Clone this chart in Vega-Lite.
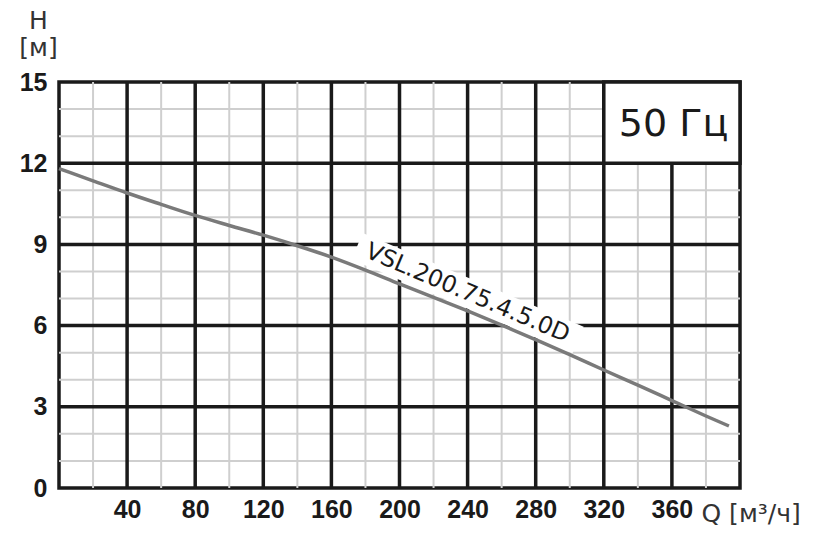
{
  "$schema": "https://vega.github.io/schema/vega-lite/v6.json",
  "width": 681,
  "height": 406,
  "autosize": "none",
  "padding": {"left": 59, "top": 82, "right": 87, "bottom": 55},
  "background": "white",
  "datasets": {
    "curve": [
      {"Q": 0, "H": 11.8}, {"Q": 20, "H": 11.35}, {"Q": 40, "H": 10.9},
      {"Q": 60, "H": 10.48}, {"Q": 80, "H": 10.07}, {"Q": 100, "H": 9.7},
      {"Q": 120, "H": 9.34}, {"Q": 140, "H": 8.95}, {"Q": 160, "H": 8.53},
      {"Q": 180, "H": 8.05}, {"Q": 200, "H": 7.54}, {"Q": 220, "H": 7.04},
      {"Q": 240, "H": 6.54}, {"Q": 260, "H": 6.02}, {"Q": 280, "H": 5.48},
      {"Q": 300, "H": 4.93}, {"Q": 320, "H": 4.36}, {"Q": 340, "H": 3.8},
      {"Q": 360, "H": 3.23}, {"Q": 380, "H": 2.66}, {"Q": 393.5, "H": 2.29}
    ],
    "vminor": [
      {"Q": 20}, {"Q": 60}, {"Q": 100}, {"Q": 140}, {"Q": 180},
      {"Q": 220}, {"Q": 260}, {"Q": 300}, {"Q": 340}, {"Q": 380}
    ],
    "hminor": [
      {"H": 1}, {"H": 2}, {"H": 4}, {"H": 5}, {"H": 7},
      {"H": 8}, {"H": 10}, {"H": 11}, {"H": 13}, {"H": 14}
    ],
    "vgrid": [
      {"Q": 40}, {"Q": 80}, {"Q": 120}, {"Q": 160}, {"Q": 200},
      {"Q": 240}, {"Q": 280}, {"Q": 320}, {"Q": 360}
    ],
    "hgrid": [{"H": 3}, {"H": 6}, {"H": 9}, {"H": 12}],
    "freq": [{"Q": 320, "Q2": 400, "H": 12, "H2": 15, "tx": 361, "ty": 13.4, "label": "50 Гц"}],
    "pump": [{"Q": 240, "H": 7.2, "name": "VSL.200.75.4.5.0D"}]
  },
  "layer": [
    {
      "data": {"name": "vminor"},
      "mark": {"type": "rule", "color": "#cfcfcf", "strokeWidth": 2},
      "encoding": {
        "x": {
          "field": "Q",
          "type": "quantitative",
          "scale": {"domain": [0, 400], "nice": false},
          "axis": {
            "title": "Q [м³/ч]",
            "values": [40, 80, 120, 160, 200, 240, 280, 320, 360]
          }
        }
      }
    },
    {
      "data": {"name": "hminor"},
      "mark": {"type": "rule", "color": "#cfcfcf", "strokeWidth": 2},
      "encoding": {
        "y": {
          "field": "H",
          "type": "quantitative",
          "scale": {"domain": [0, 15], "nice": false},
          "axis": {
            "title": ["H", "[м]"],
            "values": [0, 3, 6, 9, 12, 15]
          }
        }
      }
    },
    {
      "data": {"name": "vgrid"},
      "mark": {"type": "rule", "color": "#1a1a1a", "strokeWidth": 3.5},
      "encoding": {
        "x": {"field": "Q", "type": "quantitative"}
      }
    },
    {
      "data": {"name": "hgrid"},
      "mark": {"type": "rule", "color": "#1a1a1a", "strokeWidth": 3.5},
      "encoding": {
        "y": {"field": "H", "type": "quantitative"}
      }
    },
    {
      "data": {"name": "freq"},
      "mark": {"type": "rect", "fill": "white", "stroke": "#1a1a1a", "strokeWidth": 3.5},
      "encoding": {
        "x": {"field": "Q", "type": "quantitative"},
        "x2": {"field": "Q2"},
        "y": {"field": "H", "type": "quantitative"},
        "y2": {"field": "H2"}
      }
    },
    {
      "data": {"name": "freq"},
      "mark": {"type": "text", "font": "DejaVu Sans", "fontSize": 38, "color": "#1a1a1a", "align": "center", "baseline": "middle"},
      "encoding": {
        "x": {"field": "tx", "type": "quantitative"},
        "y": {"field": "ty", "type": "quantitative"},
        "text": {"field": "label"}
      }
    },
    {
      "data": {"name": "pump"},
      "mark": {
        "type": "point",
        "shape": "M-1,-0.12L1,-0.12L1,0.12L-1,0.12Z",
        "filled": true,
        "color": "white",
        "opacity": 1,
        "strokeWidth": 0,
        "size": 57600,
        "angle": 23
      },
      "encoding": {
        "x": {"field": "Q", "type": "quantitative"},
        "y": {"field": "H", "type": "quantitative"}
      }
    },
    {
      "data": {"name": "curve"},
      "mark": {"type": "line", "color": "#7a7a7a", "strokeWidth": 3.5, "interpolate": "monotone"},
      "encoding": {
        "x": {"field": "Q", "type": "quantitative"},
        "y": {"field": "H", "type": "quantitative"}
      }
    },
    {
      "data": {"name": "pump"},
      "mark": {"type": "text", "font": "DejaVu Sans", "fontSize": 23.5, "color": "#1a1a1a", "align": "center", "baseline": "middle", "angle": 23},
      "encoding": {
        "x": {"field": "Q", "type": "quantitative"},
        "y": {"field": "H", "type": "quantitative"},
        "text": {"field": "name"}
      }
    }
  ],
  "config": {
    "view": {"stroke": "#1a1a1a", "strokeWidth": 3.5},
    "axis": {
      "domain": false,
      "ticks": false,
      "grid": false,
      "labelFont": "Liberation Sans, Arial, Helvetica, sans-serif",
      "labelFontWeight": "bold",
      "labelFontSize": 25,
      "labelColor": "#1a1a1a",
      "labelFlush": false,
      "labelOverlap": false,
      "titleFont": "DejaVu Sans",
      "titleFontWeight": "normal",
      "titleFontSize": 25,
      "titleColor": "#333333"
    },
    "axisX": {
      "labelPadding": 9,
      "titleX": 642,
      "titleY": 33,
      "titleAlign": "left",
      "titleBaseline": "alphabetic"
    },
    "axisY": {
      "labelPadding": 12,
      "titleAngle": 0,
      "titleX": -21,
      "titleY": -54,
      "titleAlign": "center",
      "titleBaseline": "alphabetic",
      "titleLineHeight": 27
    }
  }
}
